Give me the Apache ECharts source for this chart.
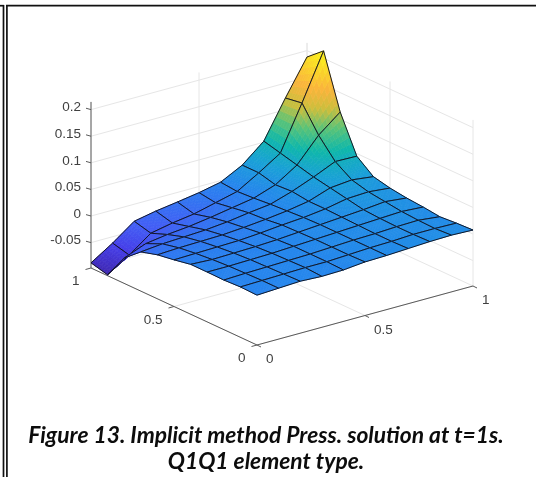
<!DOCTYPE html>
<html><head><meta charset="utf-8">
<script src="https://cdn.jsdelivr.net/npm/echarts@6/dist/echarts.min.js"></script>
<style>html,body{margin:0;padding:0;background:#fff}#c{width:536px;height:477px;filter:blur(0.35px)}</style>
</head><body><div id="c"></div>
<script>
// Surface samples: one row per y (0 .. 1), one column per x (0 .. 1)
const gridX = [0,.1,.2,.3,.4,.5,.6,.7,.8,.9,1];
const gridY = [0,.1,.2,.3,.4,.5,.6,.7,.8,.9,1];
const pressY00 = [-.004,-.002,0,-.002,-.001,.003,.004,.006,.008,.009,.0075];
const pressY01 = [-.003,-.002,-.001,0,0,.002,.004,.005,.007,.007,.006];
const pressY02 = [-.0045,-.003,-.002,-.001,0,.002,.004,.005,.007,.008,.0036];
const pressY03 = [-.004,-.004,-.003,-.002,0,.002,.004,.006,.008,.010,.0073];
const pressY04 = [-.004,-.006,-.005,-.004,-.002,.001,.004,.007,.010,.014,.0098];
const pressY05 = [-.01,-.009,-.008,-.007,-.004,0,.003,.008,.016,.018,.014];
const pressY06 = [-.015,-.013,-.012,-.011,-.008,-.004,.001,.008,.022,.026,.021];
const pressY07 = [-.024,-.02,-.018,-.016,-.012,-.006,-.001,.012,.028,.046,.045];
const pressY08 = [-.05,-.034,-.028,-.024,-.018,-.011,-.004,.01,.036,.081,.1135];
const pressY09 = [-.096,-.07,-.04,-.032,-.026,-.016,-.006,.018,.044,.127,.214];
const pressY10 = [-.088,-.062,-.032,-.024,-.018,-.0115,-.003,.018,.052,.122,.188];
const pressure = [pressY00,pressY01,pressY02,pressY03,pressY04,pressY05,pressY06,pressY07,pressY08,pressY09,pressY10];

const zTicks = [-0.05,0,0.05,0.1,0.15,0.2];
const zTickLabels = ['-0.05','0','0.05','0.1','0.15','0.2'];
const xTicks = [0,0.5,1];
const xTickLabels = ['0','0.5','1'];
const yTicks = [0,0.5,1];
const yTickLabels = ['0','0.5','1'];
const zRange = [-0.0977,0.2145];
const captionLines = ['Figure 13. Implicit method Press. solution at t=1s.','Q1Q1 element type.'];

// colormap as it appears on the surface
const parula = [[62,38,175],[70,62,232],[66,95,245],[38,132,238],[25,160,215],[15,183,170],[90,195,120],[205,190,60],[250,180,60],[250,215,40],[250,245,25]];
const colorRange = [-0.096,0.214];

// orthographic view of the unit box
const view = {ox:257,oy:345,xx:216,xy:-59,yx:-166,yy:-77,zs:532};
function project(x,y,z){
  return [view.ox+view.xx*x+view.yx*y, view.oy+view.xy*x+view.yy*y-(z-zRange[0])*view.zs];
}
function colorOf(z){
  let t=(z-colorRange[0])/(colorRange[1]-colorRange[0]);
  t=Math.max(0,Math.min(1,t))*(parula.length-1);
  const i=Math.min(parula.length-2,Math.floor(t)),f=t-i;
  const a=parula[i],b=parula[i+1];
  return 'rgb('+[0,1,2].map(k=>Math.round(a[k]+(b[k]-a[k])*f)).join(',')+')';
}
const cells=[];
for(let j=0;j<gridY.length-1;j++)for(let i=0;i<gridX.length-1;i++)cells.push([i,j]);
cells.sort((a,b)=>(b[0]+b[1])-(a[0]+a[1]));

const SUB=7;
function renderCell(params,api){
  const i=api.value(0),j=api.value(1);
  const x0=gridX[i],x1=gridX[i+1],y0=gridY[j],y1=gridY[j+1];
  const z00=pressure[j][i],z10=pressure[j][i+1],z01=pressure[j+1][i],z11=pressure[j+1][i+1];
  const at=(u,v)=>{
    const z=z00*(1-u)*(1-v)+z10*u*(1-v)+z01*(1-u)*v+z11*u*v;
    return {p:api.coord(project(x0+(x1-x0)*u,y0+(y1-y0)*v,z)),z};
  };
  const children=[];
  for(let a=0;a<SUB;a++)for(let b=0;b<SUB;b++){
    const u0=a/SUB,u1=(a+1)/SUB,v0=b/SUB,v1=(b+1)/SUB;
    const c=colorOf(at((u0+u1)/2,(v0+v1)/2).z);
    children.push({type:'polygon',shape:{points:[at(u0,v0).p,at(u1,v0).p,at(u1,v1).p,at(u0,v1).p]},
      style:{fill:c,stroke:c,lineWidth:0.7},silent:true});
  }
  children.push({type:'polygon',shape:{points:[at(0,0).p,at(1,0).p,at(1,1).p,at(0,1).p]},
    style:{fill:'none',stroke:'#10121f',lineWidth:0.95,lineJoin:'round'},silent:true});
  return {type:'group',children};
}

const GRID='#e6e6e6',AXIS='#5a5a5a',LABEL='#404040';
const zb=zRange[0],zt=zRange[1];
function line(a,b,color,w){
  return {type:'line',shape:{x1:a[0],y1:a[1],x2:b[0],y2:b[1]},style:{stroke:color,lineWidth:w},silent:true};
}
function renderBox(params,api){
  const c=(x,y,z)=>api.coord(project(x,y,z));
  const ch=[];
  zTicks.forEach(z=>{
    ch.push(line(c(0,1,z),c(1,1,z),GRID,1));
    ch.push(line(c(1,1,z),c(1,0,z),GRID,1));
  });
  xTicks.forEach(x=>{
    ch.push(line(c(x,1,zb),c(x,1,zt),GRID,1));
    ch.push(line(c(x,0,zb),c(x,1,zb),GRID,1));
  });
  yTicks.forEach(y=>{
    ch.push(line(c(1,y,zb),c(1,y,zt),GRID,1));
    ch.push(line(c(0,y,zb),c(1,y,zb),GRID,1));
  });
  return {type:'group',children:ch};
}
function renderAxes(params,api){
  const c=(x,y,z)=>api.coord(project(x,y,z));
  const ch=[];
  ch.push(line(c(0,1,zb),c(0,1,zt),AXIS,1));
  ch.push(line(c(0,0,zb),c(0,1,zb),AXIS,1));
  ch.push(line(c(0,0,zb),c(1,0,zb),AXIS,1));
  const txt=(t,p,dx,dy,align)=>({type:'text',x:p[0]+dx,y:p[1]+dy,style:{text:t,fill:LABEL,font:'13.5px "Liberation Sans"',textAlign:align,textVerticalAlign:'middle'},silent:true});
  zTicks.forEach((z,k)=>{
    const p=c(0,1,z);
    ch.push(line(p,[p[0]-5,p[1]-1.4],AXIS,1));
    ch.push(txt(zTickLabels[k],p,-10,-2,'right'));
  });
  yTicks.forEach((y,k)=>{
    const p=c(0,y,zb);
    ch.push(line(p,[p[0]-5.5,p[1]+1.5],AXIS,1));
    ch.push(txt(yTickLabels[k],p,-11.5,13.5,'right'));
  });
  xTicks.forEach((x,k)=>{
    const p=c(x,0,zb);
    ch.push(line(p,[p[0]+4,p[1]+2],AXIS,1));
    ch.push(txt(xTickLabels[k],p,9,14.5,'left'));
  });
  return {type:'group',children:ch};
}

const chart=echarts.init(document.getElementById('c'),null,{renderer:'canvas'});
chart.setOption({
  animation:false,
  backgroundColor:'#ffffff',
  grid:{left:0,right:0,top:0,bottom:0},
  xAxis:{type:'value',min:0,max:536,show:false},
  yAxis:{type:'value',min:0,max:477,inverse:true,show:false},
  title:{text:captionLines.join('\n'),left:261,top:417,textAlign:'center',
    textStyle:{fontFamily:'Lato',fontWeight:'bold',fontStyle:'italic',fontSize:22.8,lineHeight:26.5,color:'#0c0c0c'}},
  graphic:[
    {type:'line',shape:{x1:3.5,y1:5,x2:3.5,y2:477},style:{stroke:'#111',lineWidth:1.7}},
    {type:'line',shape:{x1:0,y1:5.7,x2:4,y2:5.7},style:{stroke:'#111',lineWidth:1.7}},
    {type:'line',shape:{x1:6.9,y1:5,x2:6.9,y2:477},style:{stroke:'#111',lineWidth:1.7}},
    {type:'line',shape:{x1:6,y1:5.7,x2:536,y2:5.7},style:{stroke:'#111',lineWidth:1.7}}
  ],
  series:[
    {type:'custom',coordinateSystem:'cartesian2d',silent:true,clip:false,data:[[0]],renderItem:renderBox,z:1},
    {type:'custom',coordinateSystem:'cartesian2d',silent:true,clip:false,data:[[0]],renderItem:renderAxes,z:2},
    {type:'custom',coordinateSystem:'cartesian2d',silent:true,clip:false,progressive:0,data:cells,renderItem:renderCell,z:3}
  ]
});
</script></body></html>
